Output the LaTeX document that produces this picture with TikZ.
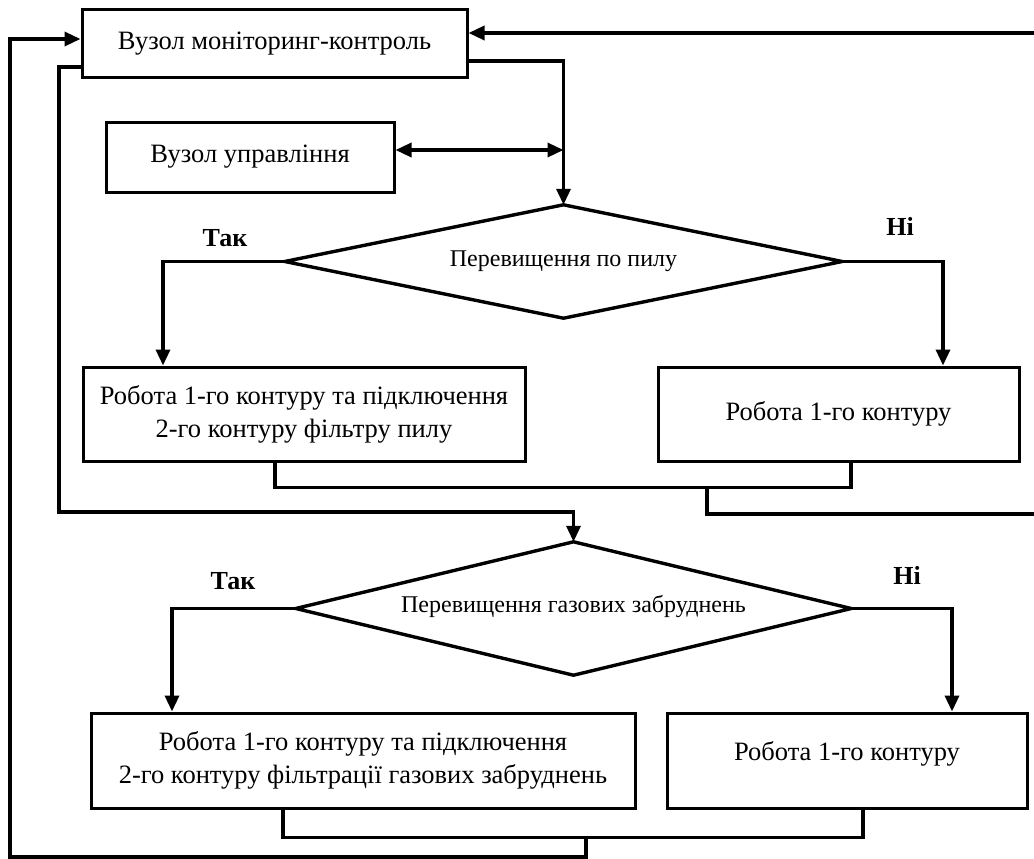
\documentclass[tikz,border=0pt]{standalone}
\usepackage{fontspec}
\setmainfont{Liberation Serif}
\usetikzlibrary{arrows.meta}
\begin{document}
\begin{tikzpicture}[x=1pt,y=-1pt,
  box/.style={draw, line width=3pt, inner sep=0pt, align=center, font=\fontsize{26.5}{33}\selectfont},
  dia/.style={inner sep=0pt, font=\fontsize{24}{28}\selectfont},
  conn/.style={line width=3.4pt},
  tip/.style={-{Triangle[length=16pt,width=14pt]}},
  lbl/.style={font=\bfseries\fontsize{26}{30}\selectfont}]
\useasboundingbox (0,0) rectangle (1034,859);

\node[box, minimum width=385pt, minimum height=68pt] (M) at (274.5,44) {Вузол моніторинг-контроль};
\node[box, minimum width=288pt, minimum height=70pt] (U) at (250,157) {Вузол управління};
\node[dia, minimum width=557pt, minimum height=113pt] (D1) at (563.5,261.5) {Перевищення по пилу};
\draw[conn, line join=miter] (D1.north) -- (D1.east) -- (D1.south) -- (D1.west) -- cycle;
\node[box, minimum width=442pt, minimum height=94pt] (A1) at (304,414) {Робота 1-го контуру та підключення\\2-го контуру фільтру пилу};
\node[box, minimum width=361pt, minimum height=94pt] (B1) at (838.5,414) {Робота 1-го контуру};
\node[dia, minimum width=555pt, minimum height=133pt, text depth=10pt] (D2) at (573.5,608.5) {Перевищення газових забруднень};
\draw[conn, line join=miter] (D2.north) -- (D2.east) -- (D2.south) -- (D2.west) -- cycle;
\node[box, minimum width=544pt, minimum height=95pt] (A2) at (363,760.5) {Робота 1-го контуру та підключення\\2-го контуру фільтрації газових забруднень};
\node[box, minimum width=360pt, minimum height=95pt] (B2) at (847,760.5) {Робота 1-го контуру\\[-24pt]\strut};

\node[lbl] (t1) at (225,238) {Так};
\node[lbl] (n1) at (900,226) {Ні};
\node[lbl] (t2) at (233,581) {Так};
\node[lbl] (n2) at (907,575) {Ні};

\coordinate (eR1) at (1034,33);
\coordinate (eR2) at (1034,514);
\coordinate (m1) at (707,486);
\coordinate (j1) at (586,836);

\draw[conn, tip] (eR1) -- (eR1 -| M.east);
\draw[conn, tip] ([yshift=-17pt]M.east) -| (D1.north);
\draw[conn, {Triangle[length=16pt,width=14pt]}-{Triangle[length=16pt,width=14pt]}] ([yshift=7pt]U.east) -- ([yshift=7pt]U.east -| D1.north);
\draw[conn, tip] (D1.west) -| ([xshift=-141pt]A1.north);
\draw[conn, tip] (D1.east) -| ([xshift=104.5pt]B1.north);
\draw[conn] ([xshift=-29pt]A1.south) -- ++(0,25) -| ([xshift=12.5pt]B1.south);
\draw[conn] (m1) |- (eR2);
\draw[conn, tip] ([yshift=-23pt]M.west) -| (59,512) -| (D2.north);
\draw[conn, tip] (D2.west) -| ([xshift=-191pt]A2.north);
\draw[conn, tip] (D2.east) -| ([xshift=105pt]B2.north);
\draw[conn] ([xshift=-80pt]A2.south) -- ++(0,28) -| ([xshift=16pt]B2.south);
\draw[conn, tip] (j1) |- (10,857) |- ([yshift=5pt]M.west);
\end{tikzpicture}
\end{document}
